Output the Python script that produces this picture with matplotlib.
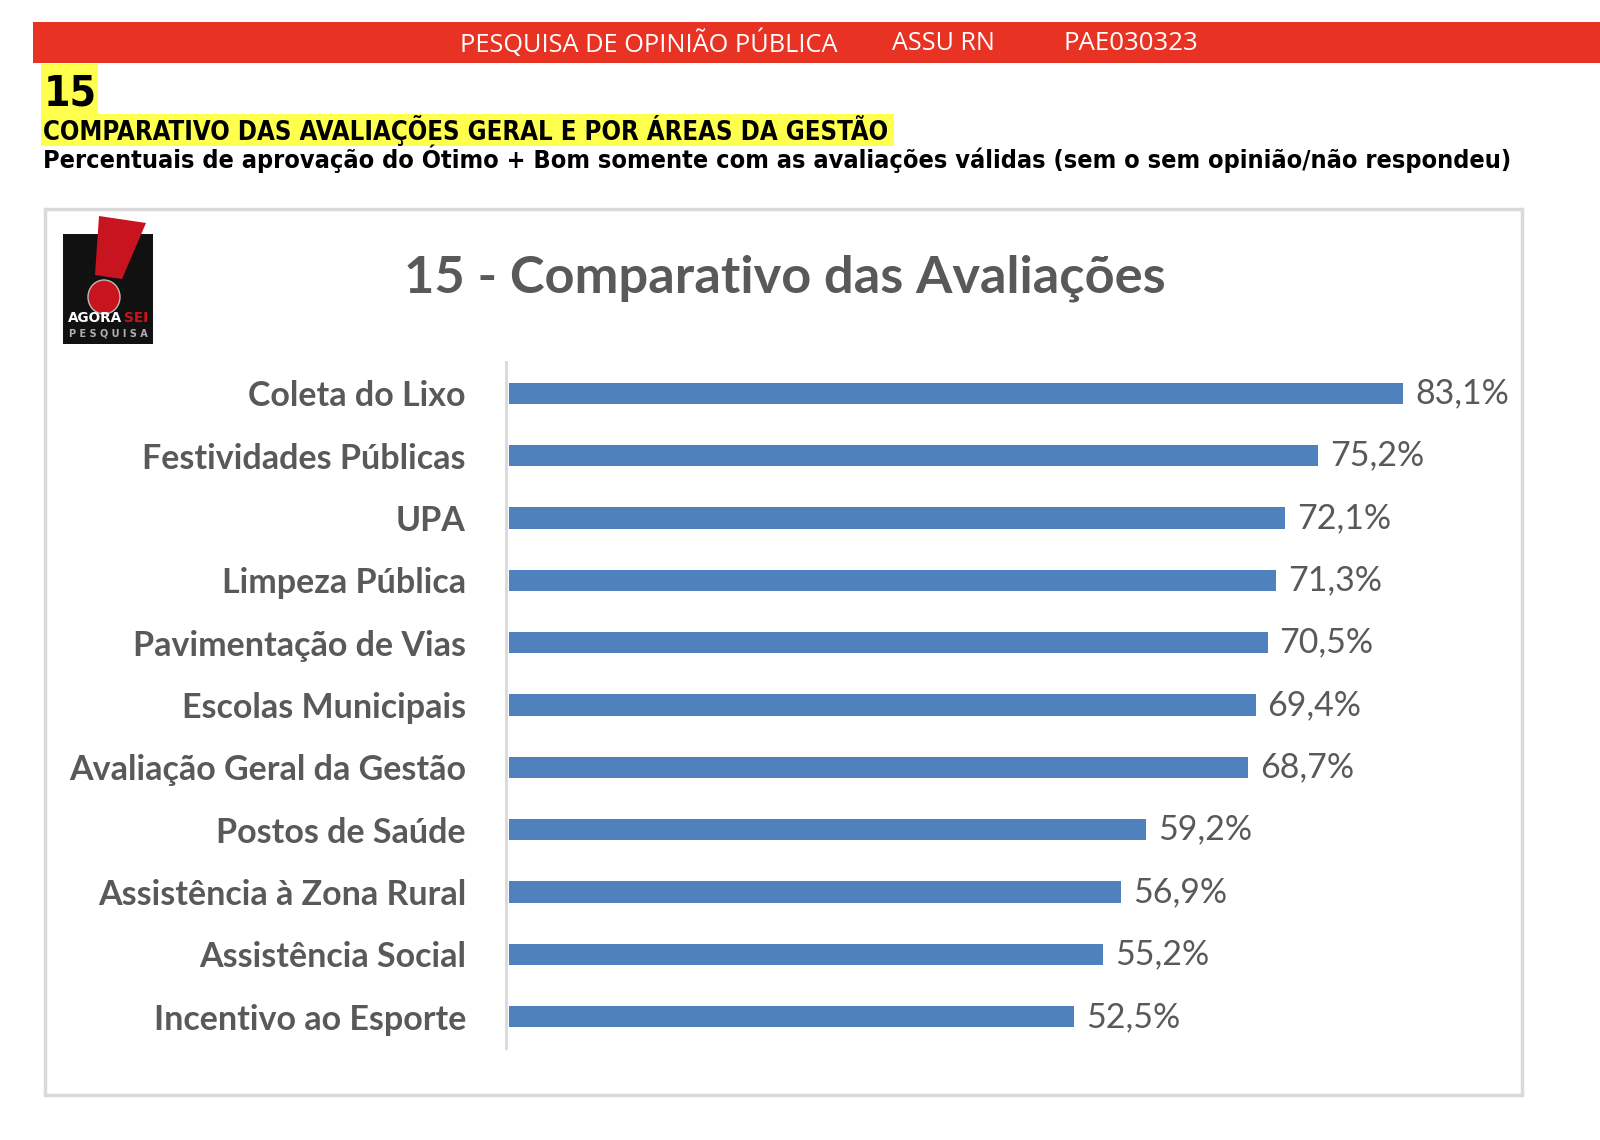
import matplotlib
matplotlib.use("Agg")
import matplotlib.pyplot as plt
from matplotlib.patches import Rectangle, Polygon, Ellipse

# data
categories = [
    "Coleta do Lixo",
    "Festividades Públicas",
    "UPA",
    "Limpeza Pública",
    "Pavimentação de Vias",
    "Escolas Municipais",
    "Avaliação Geral da Gestão",
    "Postos de Saúde",
    "Assistência à Zona Rural",
    "Assistência Social",
    "Incentivo ao Esporte",
]
values = [83.1, 75.2, 72.1, 71.3, 70.5, 69.4, 68.7, 59.2, 56.9, 55.2, 52.5]

header_parts = ["PESQUISA DE OPINIÃO PÚBLICA", "ASSU RN", "PAE030323"]
number = "15"
heading = "COMPARATIVO DAS AVALIAÇÕES GERAL E POR ÁREAS DA GESTÃO"
subheading = ("Percentuais de aprovação do Ótimo + Bom somente com as avaliações "
              "válidas (sem o sem opinião/não respondeu)")
chart_title = "15 - Comparativo das Avaliações"

W, H = 1600, 1140
BAR_BLUE = "#4F81BD"
GREY_TXT = "#595959"
RED = "#E83324"
YELLOW = "#FFFF4D"
LATO = ["Lato", "DejaVu Sans"]
HEAD = "DejaVu Sans"

fig = plt.figure(figsize=(W / 100, H / 100), dpi=100)
renderer = fig.canvas.get_renderer()

# overlay axes in pixel coordinates for the page decoration
deco = fig.add_axes([0, 0, 1, 1])
deco.set_xlim(0, W)
deco.set_ylim(H, 0)
deco.axis("off")


def fit(x, y, s, width, **kw):
    t = deco.text(x, y, s, **kw)
    bb = t.get_window_extent(renderer)
    t.set_fontsize(t.get_fontsize() * width / bb.width)
    return t


# red banner
deco.add_patch(Rectangle((33, 22), W - 33, 41, color=RED, lw=0))
for txt, x0, x1 in zip(header_parts, [460, 892, 1064], [839, 995, 1199]):
    fit(x0, 44, txt, x1 - x0, color="white", fontsize=18, va="center",
        family=["Open Sans", "DejaVu Sans"])

# number + highlighted heading
deco.add_patch(Rectangle((41, 64), 57, 50, color=YELLOW, lw=0))
fit(44, 106, number, 53, fontsize=30, fontweight="bold", color="black",
    va="baseline", family=HEAD, fontstretch="condensed")
deco.add_patch(Rectangle((41, 114), 853, 32, color=YELLOW, lw=0))
fit(43, 140, heading, 849, fontsize=16, fontweight="bold", color="black",
    va="baseline", family=HEAD, fontstretch="condensed")
fit(43, 168, subheading, 1468, fontsize=16, fontweight="bold", color="black",
    va="baseline", family=HEAD, fontstretch="condensed")

# chart frame
deco.add_patch(Rectangle((45, 209), 1477, 886, fill=False,
                         edgecolor="#D9D9D9", lw=2.5))

# logo
deco.add_patch(Rectangle((63, 234), 90, 110, color="#111111", lw=0))
deco.add_patch(Polygon([(99, 216), (146, 223), (122, 279), (95, 275)],
                       closed=True, color="#C8141E", lw=0))
deco.add_patch(Ellipse((104, 297), 32, 34, facecolor="#C8141E",
                       edgecolor="#BBBBBB", lw=1))
fit(68, 318, "AGORA", 54, color="white", fontsize=9, fontweight="bold",
    va="center", family="DejaVu Sans")
fit(124, 318, "SEI", 24, color="#C8141E", fontsize=9, fontweight="bold",
    va="center", family="DejaVu Sans")
fit(69, 333, "P E S Q U I S A", 79, color="#B0B0B0", fontsize=7,
    fontweight="bold", va="center", family="DejaVu Sans")

# chart title
fit(404, 278, chart_title, 763, fontsize=34, fontweight="bold",
    color=GREY_TXT, va="center", family=LATO)

# bar chart
left, right, top, bottom = 509, 1509, 362, 1048
ax = fig.add_axes([left / W, 1 - bottom / H, (right - left) / W, (bottom - top) / H])
pos = list(range(len(categories)))
ax.barh(pos, values, height=0.34, color=BAR_BLUE)
ax.set_xlim(0, (right - left) / 10.76)
ax.set_ylim(len(categories) - 0.5, -0.5)

# spine setup first: set_position resets the ticks
for side in ["top", "right", "bottom"]:
    ax.spines[side].set_visible(False)
ax.spines["left"].set_color("#D9D9D9")
ax.spines["left"].set_linewidth(2)
ax.spines["left"].set_position(("outward", 2))
ax.patch.set_alpha(0)

ax.set_xticks([])
ax.tick_params(axis="y", length=0, pad=29)
ax.set_yticks(pos, categories)
for lab in ax.get_yticklabels():
    lab.set_fontsize(24.5)
    lab.set_fontweight("bold")
    lab.set_color(GREY_TXT)
    lab.set_fontfamily(LATO)

for i, v in enumerate(values):
    ax.text(v + 1.1, i, f"{v:.1f}%".replace(".", ","), va="center", ha="left",
            fontsize=24.5, color=GREY_TXT, family=LATO)

fig.savefig("out.png", dpi=100, facecolor="white")
